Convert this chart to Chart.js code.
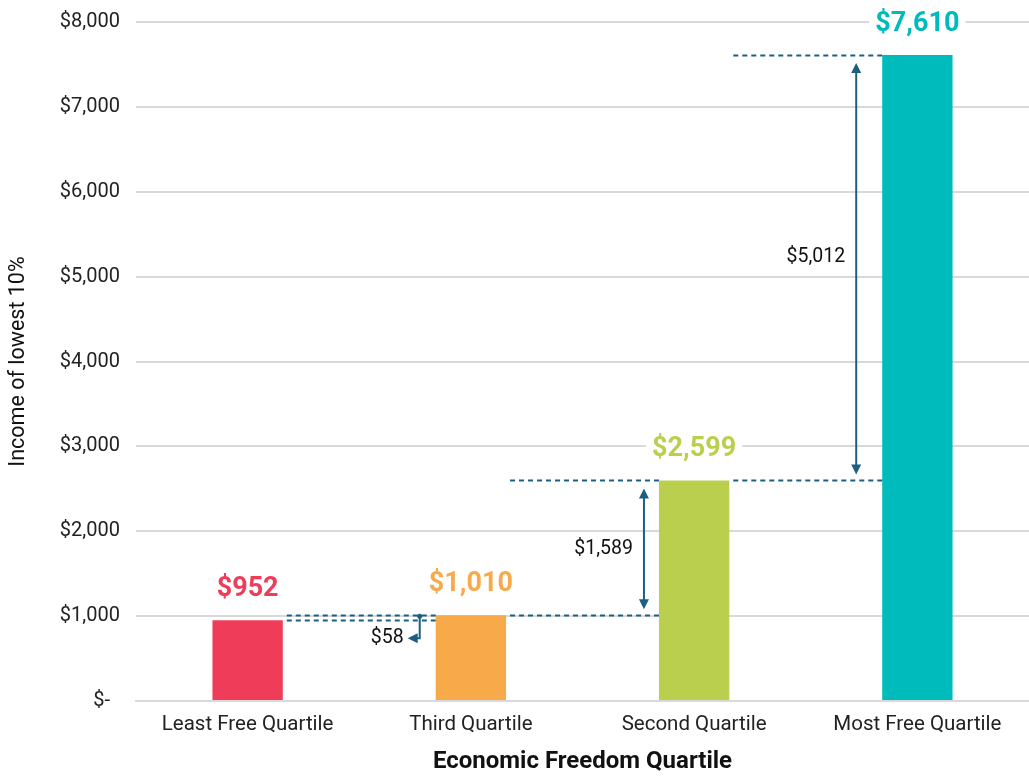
<!DOCTYPE html>
<html lang="en">
<head>
    <meta charset="UTF-8">
    <title>Income of lowest 10% by Economic Freedom Quartile</title>
    <script src="https://cdn.jsdelivr.net/npm/chart.js@4"></script>
    <style>
        body { margin: 0; background: #fff; }
        #wrap { width: 1029px; height: 776px; }
    </style>
</head>
<body>
    <div id="wrap">
        <canvas id="incomeChart" width="1029" height="776"></canvas>
    </div>
    <script>
        // data
        const quartiles = ['Least Free Quartile', 'Third Quartile', 'Second Quartile', 'Most Free Quartile'];
        const income = [952, 1010, 2599, 7610];
        const gaps = [58, 1589, 5012];   // as printed on the chart
        const barColors = ['#ef3c58', '#f8aa4b', '#bbcf4f', '#00bbbb'];
        const yTicks = [0, 1000, 2000, 3000, 4000, 5000, 6000, 7000, 8000];

        const arrowColor = '#1d5f80';
        const money = v => '$' + v.toLocaleString('en-US');

        // labels, dashed guide lines and gap arrows
        const gapPlugin = {
            id: 'gaps',
            afterDatasetsDraw(chart) {
                const ctx = chart.ctx;
                const y = chart.scales.y;
                const bars = chart.getDatasetMeta(0).data;
                const left = i => bars[i].x - bars[i].width / 2;
                const right = i => bars[i].x + bars[i].width / 2;

                ctx.save();
                // dashed lines at bar tops
                ctx.strokeStyle = arrowColor;
                ctx.lineWidth = 2;
                ctx.setLineDash([5, 4]);
                const dash = (v, x1, x2) => {
                    const py = Math.round(y.getPixelForValue(v)) + 0.5;
                    ctx.beginPath();
                    ctx.moveTo(x1, py);
                    ctx.lineTo(x2, py);
                    ctx.stroke();
                };
                dash(income[0], right(0) + 4, left(1));
                dash(income[1], right(0) + 4, left(1));
                dash(income[1], right(1) + 4, left(2));
                dash(income[2], right(1) + 4, left(2));
                dash(income[2], right(2) + 4, left(3));
                dash(income[3], right(2) + 4, left(3));
                ctx.setLineDash([]);

                const head = (x, py, dir) => {
                    ctx.beginPath();
                    if (dir === 'up') { ctx.moveTo(x, py); ctx.lineTo(x - 5, py + 10); ctx.lineTo(x + 5, py + 10); }
                    if (dir === 'down') { ctx.moveTo(x, py); ctx.lineTo(x - 5, py - 10); ctx.lineTo(x + 5, py - 10); }
                    if (dir === 'left') { ctx.moveTo(x, py); ctx.lineTo(x + 10, py - 5); ctx.lineTo(x + 10, py + 5); }
                    ctx.closePath();
                    ctx.fill();
                };
                ctx.fillStyle = arrowColor;
                ctx.font = '19.5px Roboto';
                ctx.textAlign = 'right';
                ctx.textBaseline = 'middle';

                // small gap: elbow arrow
                let ax = left(1) - 16;
                let top = y.getPixelForValue(income[1]);
                let bot = top + 23;
                ctx.beginPath();
                ctx.arc(ax, top + 1, 2.5, 0, Math.PI * 2);
                ctx.fill();
                ctx.beginPath();
                ctx.moveTo(ax, top);
                ctx.lineTo(ax, bot);
                ctx.lineTo(ax - 4, bot);
                ctx.stroke();
                head(ax - 12, bot, 'left');
                ctx.fillStyle = '#111';
                ctx.fillText(money(gaps[0]), ax - 16, bot);

                // vertical double arrows
                const vArrow = (i, off, lo, hi, text, labelDy) => {
                    const x = left(i) - off;
                    const pLo = y.getPixelForValue(lo) - 6;
                    const pHi = y.getPixelForValue(hi) + 8;
                    ctx.strokeStyle = arrowColor;
                    ctx.fillStyle = arrowColor;
                    ctx.beginPath();
                    ctx.moveTo(x, pLo - 8);
                    ctx.lineTo(x, pHi + 8);
                    ctx.stroke();
                    head(x, pHi, 'up');
                    head(x, pLo, 'down');
                    ctx.fillStyle = '#111';
                    ctx.fillText(money(text), x - 11, (pLo + pHi) / 2 + labelDy);
                };
                vArrow(2, 15, income[1], income[2], gaps[1], 0);
                vArrow(3, 26, income[2], income[3], gaps[2], -12);

                // value labels with white background
                ctx.font = 'bold 27px Roboto';
                ctx.textAlign = 'center';
                bars.forEach((b, i) => {
                    const t = money(income[i]);
                    const w = ctx.measureText(t).width;
                    const py = b.y - 31;
                    ctx.fillStyle = '#fff';
                    ctx.fillRect(b.x - w / 2 - 6, py - 15, w + 12, 30);
                    ctx.fillStyle = barColors[i];
                    ctx.fillText(t, b.x, py);
                });
                ctx.restore();
            }
        };

        new Chart(document.getElementById('incomeChart'), {
            type: 'bar',
            data: {
                labels: quartiles,
                datasets: [{
                    data: income,
                    backgroundColor: barColors,
                    categoryPercentage: 1,
                    barPercentage: 0.315
                }]
            },
            options: {
                responsive: false,
                animation: false,
                layout: { padding: { top: 22, right: 0, bottom: 0, left: 0 } },
                plugins: { legend: { display: false }, tooltip: { enabled: false } },
                scales: {
                    x: {
                        grid: { display: false },
                        border: { color: '#d9d9d9', width: 2 },
                        ticks: { color: '#222', font: { family: 'Roboto', size: 20.5 }, padding: 4 },
                        title: {
                            display: true, text: 'Economic Freedom Quartile', color: '#111',
                            font: { family: 'Roboto', size: 24, weight: 'bold' }, padding: { top: 13, bottom: 0 }
                        },
                        afterFit: s => { s.height = 75; }
                    },
                    y: {
                        min: 0, max: 8000,
                        afterBuildTicks: s => { s.ticks = yTicks.map(v => ({ value: v })); },
                        grid: { color: '#d9d9d9', lineWidth: 2, drawTicks: false },
                        border: { display: false },
                        ticks: {
                            color: '#222', font: { family: 'Roboto', size: 20 }, padding: 16,
                            callback: v => v === 0 ? '$-  ' : money(v)
                        },
                        title: {
                            display: true, text: 'Income of lowest 10%', color: '#111',
                            font: { family: 'Roboto', size: 21.5 }, padding: { top: 6, bottom: 0 }
                        },
                        afterFit: s => { s.width = 136; s.paddingTop = 0; s.paddingBottom = 0; }
                    }
                }
            },
            plugins: [gapPlugin]
        });
    </script>
</body>
</html>
